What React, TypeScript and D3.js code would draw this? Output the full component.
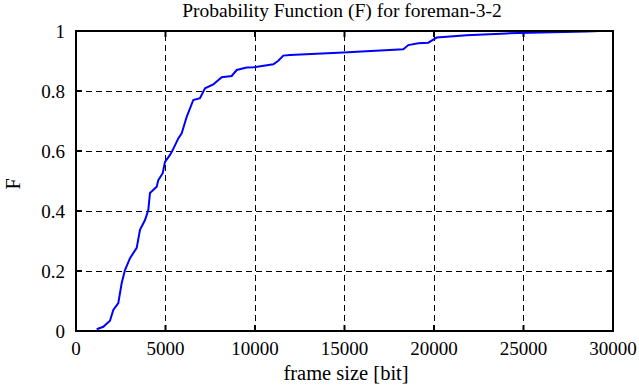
import React, { useEffect, useRef } from 'react'
import * as d3 from 'd3'

// frame size [bit] and cumulative probability
const frameSizes = [1156, 1525, 1899, 2084, 2363, 2553, 2737, 3017, 3391, 3575, 3855, 4039, 4134, 4508, 4598, 4844, 4972, 5251, 5402, 5715, 5905, 6184, 6553, 6927, 7207, 7670, 8140, 8698, 8978, 9536, 9905, 11022, 11302, 11581, 11955, 14933, 18285, 18564, 19123, 19682, 20151, 21827, 24061, 28531, 29270]
const probs = [0.006, 0.014, 0.034, 0.07, 0.093, 0.16, 0.203, 0.243, 0.277, 0.337, 0.37, 0.403, 0.46, 0.481, 0.503, 0.526, 0.564, 0.587, 0.603, 0.642, 0.659, 0.714, 0.77, 0.776, 0.809, 0.822, 0.846, 0.85, 0.87, 0.878, 0.879, 0.889, 0.901, 0.918, 0.92, 0.928, 0.939, 0.953, 0.959, 0.961, 0.978, 0.986, 0.992, 0.998, 1.0]

const xTicks = [0, 5000, 10000, 15000, 20000, 25000, 30000]
const yTicks = [0, 0.2, 0.4, 0.6, 0.8, 1]

const title = 'Probability Function (F) for foreman-3-2'
const xLabel = 'frame size [bit]'
const yLabel = 'F'

export default function App() {
  const ref = useRef<SVGSVGElement>(null)

  useEffect(() => {
    const width = 639, height = 387
    const m = { left: 76, right: 26, top: 31, bottom: 56 }
    const svg = d3.select(ref.current)
    svg.selectAll('*').remove()

    const x = d3.scaleLinear().domain([0, 30000]).range([m.left, width - m.right])
    const y = d3.scaleLinear().domain([0, 1]).range([height - m.bottom, m.top])
    const font = 'Liberation Serif, Times New Roman, serif'

    // dashed grid
    const grid = svg.append('g').attr('stroke', '#000').attr('stroke-width', 1)
      .attr('stroke-dasharray', '6,4').attr('shape-rendering', 'crispEdges')
    grid.selectAll('.gx').data(xTicks.slice(1, -1)).enter().append('line')
      .attr('x1', d => x(d)).attr('x2', d => x(d))
      .attr('y1', y(0)).attr('y2', y(1))
    grid.selectAll('.gy').data(yTicks.slice(1, -1)).enter().append('line')
      .attr('y1', d => y(d)).attr('y2', d => y(d))
      .attr('x1', x(0)).attr('x2', x(30000))

    // inward ticks on all four sides
    const ticks = svg.append('g').attr('stroke', '#000').attr('stroke-width', 2)
    xTicks.forEach(t => {
      ticks.append('line').attr('x1', x(t)).attr('x2', x(t)).attr('y1', y(0)).attr('y2', y(0) - 6)
      ticks.append('line').attr('x1', x(t)).attr('x2', x(t)).attr('y1', y(1)).attr('y2', y(1) + 6)
    })
    yTicks.forEach(t => {
      ticks.append('line').attr('y1', y(t)).attr('y2', y(t)).attr('x1', x(0)).attr('x2', x(0) + 6)
      ticks.append('line').attr('y1', y(t)).attr('y2', y(t)).attr('x1', x(30000)).attr('x2', x(30000) - 6)
    })

    // curve
    const line = d3.line<number>()
      .x((d, i) => x(frameSizes[i]))
      .y(d => y(d))
    svg.append('path')
      .datum(probs)
      .attr('d', line)
      .attr('fill', 'none')
      .attr('stroke', '#0000ff')
      .attr('stroke-width', 2)

    // frame
    svg.append('rect')
      .attr('x', x(0)).attr('y', y(1))
      .attr('width', x(30000) - x(0)).attr('height', y(0) - y(1))
      .attr('fill', 'none').attr('stroke', '#000').attr('stroke-width', 2)

    const txt = svg.append('g').attr('font-family', font).attr('fill', '#000')

    // tick labels
    txt.append('g').attr('font-size', 19).selectAll('text').data(xTicks).enter().append('text')
      .attr('x', d => x(d)).attr('y', y(0) + 24)
      .attr('text-anchor', 'middle')
      .text(d => String(d))
    txt.append('g').attr('font-size', 19).selectAll('text').data(yTicks).enter().append('text')
      .attr('x', x(0) - 11).attr('y', d => y(d) + 7)
      .attr('text-anchor', 'end')
      .text(d => String(d))

    txt.append('text')
      .attr('x', 342).attr('y', 17)
      .attr('font-size', 19.5)
      .attr('text-anchor', 'middle')
      .text(title)
    txt.append('text')
      .attr('x', 346).attr('y', 380)
      .attr('font-size', 20.5)
      .attr('text-anchor', 'middle')
      .text(xLabel)
    txt.append('text')
      .attr('transform', `translate(20,184) rotate(-90)`)
      .attr('font-size', 20)
      .attr('text-anchor', 'middle')
      .text(yLabel)
  }, [])

  return (
    <svg ref={ref} width={639} height={387}
      style={{ position: 'absolute', left: 0, top: 0, background: '#fff' }} />
  )
}
